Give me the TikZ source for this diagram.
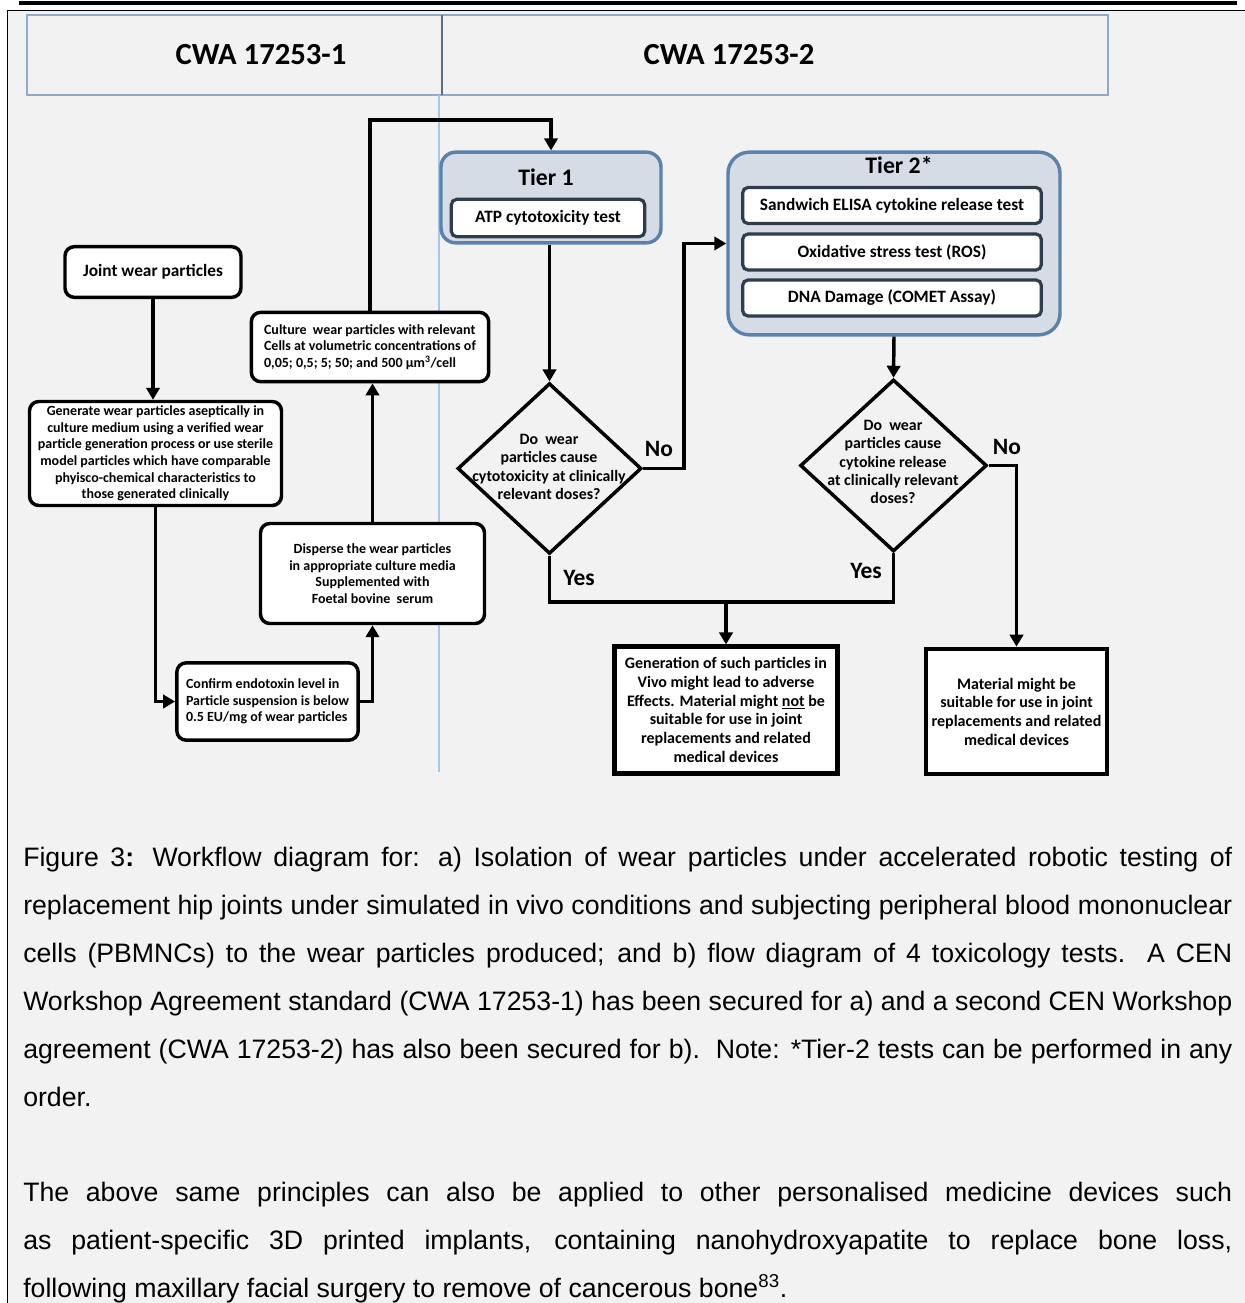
\documentclass[tikz,border=0pt]{standalone}
\usepackage{fontspec}
\newfontfamily\cali{Carlito}
\newfontfamily\arialfont{Liberation Sans}
\usetikzlibrary{shapes.geometric,arrows.meta,positioning}
\definecolor{pagegray}{HTML}{F2F2F2}
\definecolor{hdrblue}{HTML}{8FAACB}
\definecolor{hdrdark}{HTML}{5D6E80}
\definecolor{sepblue}{HTML}{A8C6E6}
\definecolor{tierfill}{HTML}{D6DCE5}
\definecolor{tierline}{HTML}{5A82AD}
\definecolor{testline}{HTML}{2F3C4C}

\begin{document}
\begin{tikzpicture}[x=0.75pt, y=-0.75pt, line join=miter,
  procbox/.style={draw, line width=2.6pt, fill=white, rounded corners=7pt, align=center, inner sep=1pt, font=\cali\bfseries\fontsize{10.5}{12.5}\selectfont},
  endbox/.style={draw, line width=3.3pt, fill=white, align=center, font=\cali\bfseries\fontsize{12}{14}\selectfont},
  tierbox/.style={draw=tierline, line width=2.6pt, fill=tierfill, rounded corners=11pt},
  tiertitle/.style={font=\cali\bfseries\fontsize{17.8}{20}\selectfont},
  testbox/.style={draw=testline, line width=2.4pt, fill=white, rounded corners=4pt, font=\cali\bfseries\fontsize{13}{15}\selectfont},
  decision/.style={diamond, draw, line width=2.6pt, inner sep=0pt},
  qtext/.style={align=center, font=\cali\bfseries\fontsize{11.9}{13.8}\selectfont},
  answer/.style={font=\cali\bfseries\fontsize{17.6}{20}\selectfont},
  hdrtext/.style={font=\cali\bfseries\fontsize{23}{27}\selectfont},
  flow/.style={line width=2.6pt, -{Triangle[length=9pt,width=10pt]}},
  link/.style={line width=2.6pt},
  caption/.style={anchor=north west, inner sep=0pt, text width=906.75pt, align=justify, font=\arialfont\fontsize{20}{36}\selectfont}]
  \useasboundingbox (0,0) rectangle (1245,1303);
  % page
  \fill[white] (0,0) rectangle (1245,1303);
  \fill[pagegray] (8,11) rectangle (1245,1303);
  \draw[line width=2.6pt] (19,3) -- (1237,3);
  \draw[line width=1.1pt] (7,10.5) -- (1245,10.5);
  \draw[line width=1.1pt] (7.5,10) -- (7.5,1303);

  % header
  \draw[hdrblue, line width=1.5pt] (27,15) rectangle (1108,95);
  \draw[hdrdark, line width=1.1pt] (442,15) -- (442,95);
  \draw[sepblue, line width=1.1pt] (439,95) -- (439,772); % split between the two parts
  \node[hdrtext] (hdrA) at (261,55) {CWA 17253-1};
  \node[hdrtext] (hdrB) at (729,55) {CWA 17253-2};

  % CWA 17253-1
  \node[procbox, minimum width=132pt, minimum height=38pt, font=\cali\bfseries\fontsize{13}{15}\selectfont] (joint) at (153,272) {Joint wear particles};
  \node[procbox, minimum width=189pt, minimum height=78pt] (generate) at (155.5,453.5) {Generate wear particles aseptically in\\culture medium using a verified wear\\particle generation process or use sterile\\model particles which have comparable\\phyisco-chemical characteristics to\\those generated clinically};
  \node[procbox, minimum width=136pt, minimum height=58pt, align=left] (confirm) at (267.5,701.5) {Confirm endotoxin level in\\Particle suspension is below\\0.5 EU/mg of wear particles};
  \node[procbox, minimum width=168pt, minimum height=75pt] (disperse) at (372.5,573.5) {Disperse the wear particles\\in appropriate culture media\\Supplemented with\\Foetal bovine~~serum};
  \node[procbox, minimum width=178pt, minimum height=52pt, align=left] (culture) at (370,347) {Culture~~wear particles with relevant\\Cells at volumetric concentrations of\\0,05; 0,5; 5; 50; and 500 µm\textsuperscript{3}/cell};

  % CWA 17253-2
  \node[tierbox, minimum width=165pt, minimum height=68pt] (tier1) at (551,197.5) {};
  \node[tiertitle] (tier1title) at (546,177) {Tier 1};
  \node[testbox, minimum width=145pt, minimum height=28pt] (atp) at (548,218) {ATP cytotoxicity test};
  \node[tierbox, minimum width=249pt, minimum height=137pt, rounded corners=16pt] (tier2) at (894,243.5) {};
  \node[tiertitle] (tier2title) at (899,165) {Tier 2*};
  \foreach \y/\name/\txt in {205.5/elisa/{Sandwich ELISA cytokine release test}, 252/ros/{Oxidative stress test (ROS)}, 298/comet/{DNA Damage (COMET Assay)}}
    \node[testbox, minimum width=224pt, minimum height=27pt] (\name) at (892,\y) {\txt};

  \node[decision, minimum width=138pt, minimum height=128pt] (q1) at (549.5,468.5) {};
  \node[qtext] (q1text) at (549,467) {Do~~wear\\particles cause\\cytotoxicity at clinically\\relevant doses?};
  \node[decision, minimum width=140pt, minimum height=129pt] (q2) at (893.5,465.5) {};
  \node[qtext] (q2text) at (893,462) {Do~~wear\\particles cause\\cytokine release\\at clinically relevant\\doses?};

  \node[endbox, minimum width=167pt, minimum height=95pt] (adverse) at (726,710) {Generation of such particles in\\Vivo might lead to adverse\\Effects. Material might \underline{not} be\\suitable for use in joint\\replacements and related\\medical devices};
  \node[endbox, minimum width=136pt, minimum height=94pt] (suitable) at (1016.5,711.5) {Material might be\\suitable for use in joint\\replacements and related\\medical devices};

  % connectors
  \draw[flow] (joint.south) -- (joint.south |- generate.north);
  \draw[flow] (generate.south) |- (confirm.west);
  \draw[flow] (confirm.east) -| (disperse.south);
  \draw[flow] (disperse.north) -- (disperse.north |- culture.south);
  \coordinate (loop) at (370,120);
  \draw[flow] (culture.north) -- (loop) -| (tier1.north);
  \draw[flow] (q1.north |- tier1.south) -- (q1.north);
  \coordinate (nobend) at (684,468.5);
  \draw[flow] (q1.east) -- (nobend) |- (tier2.west);
  \draw[flow] (tier2.south) -- (q2.north);
  \draw[flow] (q2.east) -| (suitable.north);
  \coordinate (yesjoin) at (726,602);
  \draw[link] (q1.south) |- (yesjoin);
  \draw[link] (q2.south) |- (yesjoin);
  \draw[flow] (yesjoin) -- (adverse.north);

  \node[answer] (no1) at (659,449) {No};
  \node[answer] (no2) at (1007,447) {No};
  \node[answer] (yes1) at (579,578) {Yes};
  \node[answer] (yes2) at (866,571) {Yes};

  % caption text
  \node[caption] (figcap) at (23,847) {Figure 3{\bfseries :} Workflow diagram for: a) Isolation of wear particles under accelerated robotic testing of\linebreak replacement hip joints under simulated in vivo conditions and subjecting peripheral blood mononuclear\linebreak cells (PBMNCs) to the wear particles produced; and b) flow diagram of 4 toxicology tests.~~A CEN\linebreak Workshop Agreement standard (CWA 17253-1) has been secured for a) and a second CEN Workshop\linebreak agreement (CWA 17253-2) has also been secured for b).~~Note: *Tier-2 tests can be performed in any\linebreak order.};
  \node[caption] (nextpara) at (23,1182) {The above same principles can also be applied to other personalised medicine devices such\linebreak as patient-specific 3D printed implants, containing nanohydroxyapatite to replace bone loss,\linebreak following maxillary facial surgery to remove of cancerous bone\textsuperscript{83}.};
\end{tikzpicture}
\end{document}
